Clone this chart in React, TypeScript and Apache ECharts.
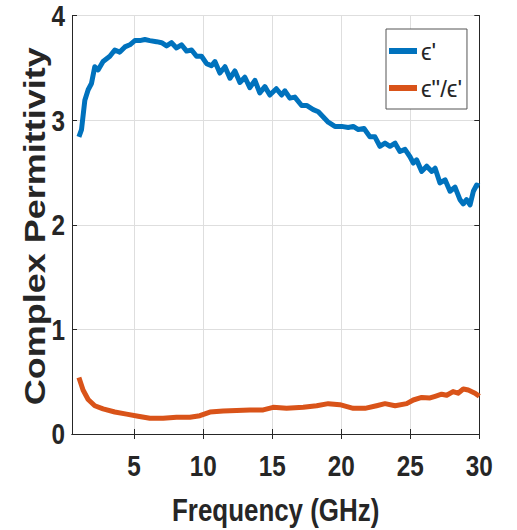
import React, { useEffect, useRef } from "react";
import * as echarts from "echarts";

const epsFreq = [1.0, 1.19, 1.43, 1.67, 1.91, 2.15, 2.39, 2.75, 3.24, 3.6, 3.96, 4.33, 4.69, 5.05, 5.41, 5.78, 6.14, 6.62, 6.99, 7.35, 7.71, 8.07, 8.43, 8.8, 9.16, 9.52, 9.88, 10.25, 10.6, 10.85, 11.21, 11.58, 11.94, 12.3, 12.66, 13.02, 13.38, 13.75, 14.1, 14.47, 14.83, 15.3, 15.68, 15.92, 16.28, 16.64, 17.13, 17.49, 17.97, 18.34, 18.7, 19.06, 19.54, 20.03, 20.51, 20.87, 21.24, 21.65, 22.08, 22.44, 22.8, 23.17, 23.53, 23.9, 24.25, 24.62, 24.98, 25.22, 25.46, 25.83, 26.19, 26.56, 26.8, 27.15, 27.52, 27.88, 28.24, 28.6, 28.84, 29.08, 29.33, 29.57, 29.81, 30.0];
const epsReal = [2.84, 2.91, 3.19, 3.29, 3.35, 3.51, 3.48, 3.56, 3.61, 3.67, 3.65, 3.70, 3.72, 3.76, 3.76, 3.77, 3.76, 3.75, 3.74, 3.71, 3.74, 3.69, 3.72, 3.66, 3.67, 3.61, 3.61, 3.54, 3.52, 3.56, 3.45, 3.51, 3.40, 3.47, 3.36, 3.41, 3.31, 3.38, 3.26, 3.32, 3.24, 3.30, 3.24, 3.28, 3.21, 3.22, 3.14, 3.14, 3.10, 3.08, 3.03, 2.98, 2.94, 2.94, 2.93, 2.94, 2.91, 2.92, 2.84, 2.84, 2.75, 2.78, 2.75, 2.78, 2.70, 2.72, 2.65, 2.59, 2.62, 2.51, 2.56, 2.51, 2.54, 2.40, 2.43, 2.32, 2.36, 2.24, 2.20, 2.24, 2.19, 2.32, 2.38, 2.37];

const lossFreq = [1.0, 1.3, 1.67, 2.15, 2.75, 3.6, 4.45, 5.29, 6.14, 7.1, 8.07, 9.04, 9.76, 10.49, 11.45, 12.42, 13.38, 14.35, 15.07, 16.04, 17.25, 18.22, 19.06, 19.9, 20.87, 21.72, 22.56, 23.17, 23.9, 24.74, 25.22, 25.83, 26.43, 26.8, 27.27, 27.64, 28.1, 28.46, 28.84, 29.2, 29.69, 30.0];
const lossTan = [0.54, 0.42, 0.33, 0.27, 0.24, 0.21, 0.19, 0.17, 0.15, 0.15, 0.16, 0.16, 0.175, 0.21, 0.22, 0.225, 0.23, 0.23, 0.255, 0.245, 0.255, 0.27, 0.29, 0.28, 0.245, 0.245, 0.27, 0.29, 0.27, 0.29, 0.325, 0.35, 0.345, 0.36, 0.38, 0.37, 0.405, 0.39, 0.43, 0.42, 0.39, 0.36];

const xTicks = [5, 10, 15, 20, 25, 30];
const yTicks = [0, 1, 2, 3, 4];
const seriesNames = ["ϵ'", "ϵ\"/ϵ'"];
const xTitle = "Frequency (GHz)";
const yTitle = "Complex Permittivity";

const SANS = '"Liberation Sans", Arial, Helvetica, sans-serif';
const AXIS = "#262626";
const SQUEEZE = 0.81;

export default function App() {
  const ref = useRef<HTMLDivElement>(null);
  useEffect(() => {
    if (!ref.current) return;
    const chart = echarts.init(ref.current, undefined, { renderer: "svg" });
    const gridLeft = 72;
    const gridTop = 15.5;
    const gridRight = 517 - 479.3;
    const gridBottom = 530 - 434;
    const xCommon = { type: "value" as const, min: 0.5, max: 30 };
    const yCommon = { type: "value" as const, min: 0, max: 4, interval: 1 };
    chart.setOption({
      animation: false,
      backgroundColor: "#ffffff",
      grid: { left: gridLeft, top: gridTop, right: gridRight, bottom: gridBottom, containLabel: false },
      legend: {
        orient: "vertical",
        left: 386,
        top: 29,
        padding: [7, 5, 6, 3],
        itemGap: 7,
        itemWidth: 28,
        itemHeight: 6,
        icon: "rect",
        borderColor: "#555555",
        borderWidth: 1,
        backgroundColor: "#ffffff",
        textStyle: {
          fontSize: 24,
          lineHeight: 30,
          color: AXIS,
          fontFamily: SANS,
          padding: [0, 0, 0, -1],
        },
        data: seriesNames,
      },
      xAxis: [
        {
          ...xCommon,
          position: "bottom",
          axisLine: { show: true, lineStyle: { color: AXIS, width: 1 } },
          axisTick: { show: true, inside: true, length: 5, customValues: xTicks, lineStyle: { color: AXIS } },
          axisLabel: { show: false, customValues: xTicks },
          splitLine: { show: true, lineStyle: { color: "#dedede", width: 1 } },
        },
        {
          ...xCommon,
          position: "top",
          axisLine: { show: true, lineStyle: { color: AXIS, width: 1 } },
          axisTick: { show: true, inside: true, length: 5, customValues: xTicks, lineStyle: { color: AXIS } },
          axisLabel: { show: false },
          splitLine: { show: false },
        },
      ],
      yAxis: [
        {
          ...yCommon,
          position: "left",
          axisLine: { show: true, lineStyle: { color: AXIS, width: 1 } },
          axisTick: { show: true, inside: true, length: 5, lineStyle: { color: AXIS } },
          axisLabel: { show: false },
          splitLine: { show: true, lineStyle: { color: "#dedede", width: 1 } },
        },
        {
          ...yCommon,
          position: "right",
          axisLine: { show: true, lineStyle: { color: AXIS, width: 1 } },
          axisTick: { show: true, inside: true, length: 5, lineStyle: { color: AXIS } },
          axisLabel: { show: false },
          splitLine: { show: false },
        },
      ],
      series: [
        {
          name: seriesNames[0],
          type: "line",
          data: epsFreq.map((f, i) => [f, epsReal[i]]),
          showSymbol: false,
          symbol: "none",
          lineStyle: { color: "#0072BD", width: 5, join: "round" },
          itemStyle: { color: "#0072BD" },
          z: 3,
        },
        {
          name: seriesNames[1],
          type: "line",
          data: lossFreq.map((f, i) => [f, lossTan[i]]),
          showSymbol: false,
          symbol: "none",
          lineStyle: { color: "#D95319", width: 5, join: "round" },
          itemStyle: { color: "#D95319" },
          z: 3,
        },
      ],
    });

    // tick labels and titles placed through the axes' own scales, horizontally squeezed like the original
    const x0 = chart.convertToPixel({ xAxisIndex: 0 }, 0.5) as number;
    const x1 = chart.convertToPixel({ xAxisIndex: 0 }, 30) as number;
    const yBottom = chart.convertToPixel({ yAxisIndex: 0 }, 0) as number;
    const yTop = chart.convertToPixel({ yAxisIndex: 0 }, 4) as number;
    const tickFont = `bold 30px ${SANS}`;
    const graphics: any[] = [];
    xTicks.forEach((v) => {
      graphics.push({
        type: "text",
        x: chart.convertToPixel({ xAxisIndex: 0 }, v) as number,
        y: yBottom + 32,
        scaleX: SQUEEZE,
        silent: true,
        style: { text: String(v), font: tickFont, lineHeight: 24, fill: AXIS, textAlign: "center", textVerticalAlign: "middle" },
      });
    });
    yTicks.forEach((v) => {
      graphics.push({
        type: "text",
        x: x0 - 7,
        y: chart.convertToPixel({ yAxisIndex: 0 }, v) as number,
        scaleX: SQUEEZE,
        silent: true,
        style: { text: String(v), font: tickFont, lineHeight: 24, fill: AXIS, textAlign: "right", textVerticalAlign: "middle" },
      });
    });
    graphics.push({
      type: "text",
      x: (x0 + x1) / 2,
      y: yBottom + 76,
      scaleX: SQUEEZE,
      silent: true,
      style: { text: xTitle, font: `bold 32px ${SANS}`, fill: AXIS, textAlign: "center", textVerticalAlign: "middle" },
    });
    graphics.push({
      type: "text",
      x: 35,
      y: (yBottom + yTop) / 2 + 1.5,
      rotation: Math.PI / 2,
      scaleY: SQUEEZE,
      silent: true,
      style: { text: yTitle, font: `bold 36px ${SANS}`, fill: AXIS, textAlign: "center", textVerticalAlign: "middle" },
    });
    chart.setOption({ graphic: graphics });

    return () => chart.dispose();
  }, []);
  return <div ref={ref} style={{ position: "fixed", left: 0, top: 0, width: 517, height: 530 }} />;
}
